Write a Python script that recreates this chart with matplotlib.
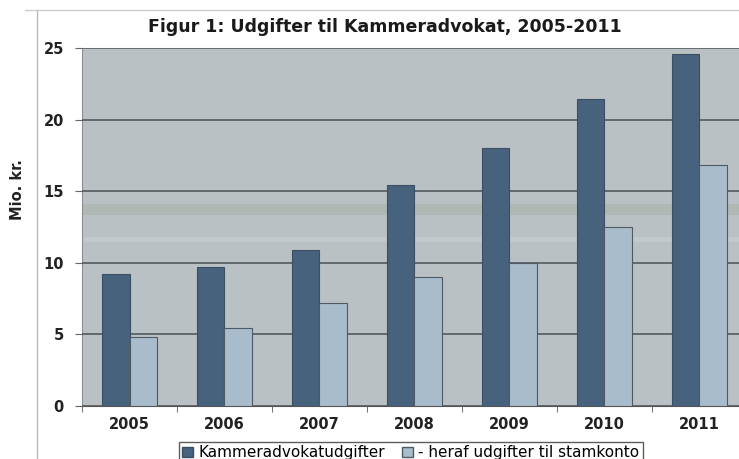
import matplotlib
matplotlib.use("Agg")
import matplotlib.pyplot as plt
import numpy as np
from matplotlib.lines import Line2D

years = ["2005", "2006", "2007", "2008", "2009", "2010", "2011"]
kammer = [9.2, 9.7, 10.9, 15.4, 18.0, 21.4, 24.6]
stamkonto = [4.8, 5.4, 7.2, 9.0, 10.0, 12.5, 16.8]
series_names = ["Kammeradvokatudgifter", "- heraf udgifter til stamkonto"]
title = "Figur 1: Udgifter til Kammeradvokat, 2005-2011"
ylabel = "Mio. kr."
yticks = [0, 5, 10, 15, 20, 25]

dark = "#46627c"
light = "#a8bccb"
bg = "#bac1c4"

fig = plt.figure(figsize=(7.39, 4.59), dpi=100)
ax = fig.add_axes([82/739, 1-405.5/459, (747-82)/739, (405.5-48)/459])
ax.set_facecolor(bg)

x = np.arange(len(years))
w = 0.29
ax.bar(x - w/2, kammer, width=w, color=dark, edgecolor="#3a4f63", linewidth=0.8, zorder=3, label=series_names[0])
ax.bar(x + w/2, stamkonto, width=w, color=light, edgecolor="#4d5a64", linewidth=0.8, zorder=3, label=series_names[1])

# scan-like band
ax.axhspan(13.3, 14.1, color="#a9b2a8", alpha=0.6, zorder=1, linewidth=0)
ax.axhspan(11.4, 11.8, color="#c8cdd0", alpha=0.6, zorder=1, linewidth=0)

ax.set_ylim(0, 25)
ax.set_xlim(-0.5, len(years) - 0.5)
ax.set_yticks(yticks)
ax.yaxis.grid(True, color="#4a5053", linewidth=1.1, zorder=2)
ax.set_axisbelow(False)
ax.set_xticks(x)
ax.set_xticklabels(years)
ax.set_xticks(np.arange(len(years) + 1) - 0.5, minor=True)
ax.tick_params(axis="x", which="major", length=0, pad=8, labelsize=10.5, colors="#222222")
ax.tick_params(axis="x", which="minor", length=4, direction="out", color="#555555")
ax.tick_params(axis="y", length=5, direction="out", color="#666666", labelsize=10.5, pad=8, labelcolor="#222222")
for lbl in ax.get_xticklabels() + ax.get_yticklabels():
    lbl.set_fontweight("bold")
ax.spines["top"].set_color("#d5d9db")
ax.spines["right"].set_visible(False)
ax.spines["left"].set_color("#8a8f92")
ax.spines["bottom"].set_color("#555555")

fig.text(385/739, 1-27/459, title, ha="center", va="center", fontsize=12.5, fontweight="bold", color="#1a1a1a")
fig.text(17/739, 1-190/459, ylabel, rotation=90, ha="center", va="center", fontsize=10.5, fontweight="bold", color="#222222")

# scan frame lines
fig.add_artist(Line2D([37/739, 37/739], [0, 1-10/459], color="#bbbbbb", linewidth=1.0))
fig.add_artist(Line2D([25/739, 1], [1-10/459, 1-10/459], color="#cccccc", linewidth=1.0))

handles = [plt.Rectangle((0, 0), 1, 1, facecolor=dark, edgecolor="#3a4f63"),
           plt.Rectangle((0, 0), 1, 1, facecolor=light, edgecolor="#4d5a64")]
leg = fig.legend(handles, series_names, loc="upper left", bbox_to_anchor=(171/739, 1-434/459),
                 ncol=2, frameon=True, fontsize=11, handlelength=0.7, handleheight=0.7,
                 handletextpad=0.35, columnspacing=1.1, borderpad=0.25, fancybox=False)
leg.get_frame().set_edgecolor("#333333")
leg.get_frame().set_linewidth(1.0)

fig.savefig("out.png", dpi=100, facecolor="white")
